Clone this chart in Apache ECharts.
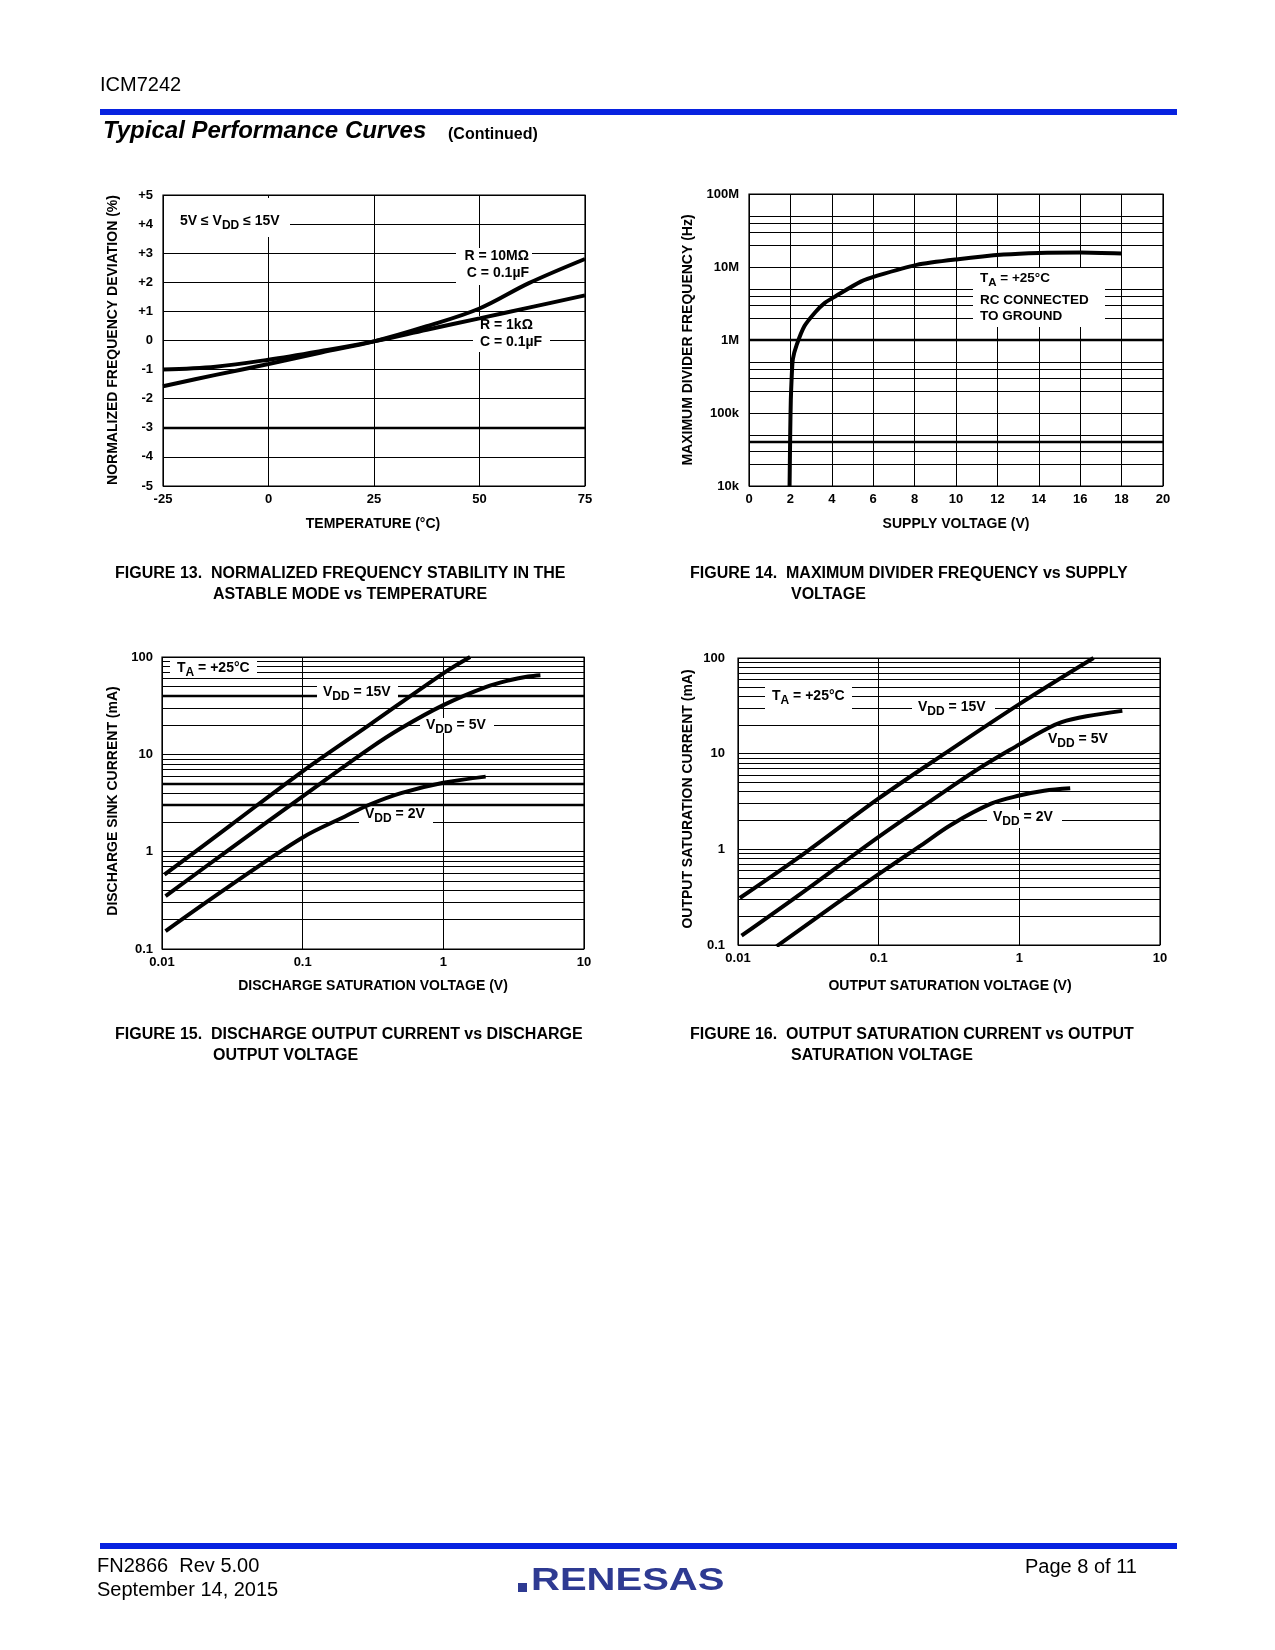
<!DOCTYPE html>
<html>
<head>
<meta charset="utf-8">
<script src="https://cdn.jsdelivr.net/npm/echarts@6/dist/echarts.min.js"></script>
<style>html,body{margin:0;padding:0;background:#fff}#c{width:1275px;height:1650px}</style>
</head>
<body>
<div id="c"></div>
<script>
const FONT = '"Liberation Sans", Arial, Helvetica, sans-serif';

// ---------- Figure 13 : normalized frequency deviation vs temperature ----------
const fig13Temp = [-25, -12.5, 0, 12.5, 25, 37.5, 50, 61.7, 75];
const fig13R10M = [-1.57, -1.18, -0.81, -0.41, -0.03, 0.49, 1.1, 1.97, 2.8];
const fig13R1k  = [-1.0, -0.9, -0.66, -0.36, -0.03, 0.37, 0.76, 1.13, 1.55];
const fig13YLabels = ['-5', '-4', '-3', '-2', '-1', '0', '+1', '+2', '+3', '+4', '+5'];

// ---------- Figure 14 : max divider frequency vs supply voltage ----------
const fig14Vdd  = [1.96, 1.99, 2.02, 2.06, 2.12, 2.3, 2.68, 3.2, 3.65, 4.2, 5.4, 6.2, 8.1, 10.1, 12.3, 14, 16, 18];
const fig14Freq = [1e4, 5e4, 1.5e5, 3e5, 5.5e5, 8.5e5, 1.55e6, 2.4e6, 3.2e6, 4e6, 6.3e6, 7.6e6, 1.07e7, 1.28e7, 1.48e7, 1.56e7, 1.58e7, 1.53e7];
const fig14YLabels = ['10k', '100k', '1M', '10M', '100M'];

// ---------- Figure 15 : discharge sink current vs discharge saturation voltage ----------
const fig15V15x = [0.0104, 0.03, 0.1, 0.3, 1, 1.55];
const fig15V15y = [0.58, 1.82, 6.7, 20.2, 68, 100];
const fig15V5x  = [0.0106, 0.03, 0.1, 0.3, 0.5, 1, 2, 3, 4, 4.9];
const fig15V5y  = [0.35, 1.05, 3.7, 11.5, 18.5, 32, 49, 58, 63, 65];
const fig15V2x  = [0.0106, 0.03, 0.1, 0.2, 0.3, 0.5, 1, 2];
const fig15V2y  = [0.153, 0.44, 1.4, 2.3, 3.05, 4.0, 5.1, 5.9];
const fig15XLabels = ['0.01', '0.1', '1', '10'];
const fig15YLabels = ['0.1', '1', '10', '100'];

// ---------- Figure 16 : output saturation current vs output saturation voltage ----------
const fig16V15x = [0.0103, 0.03, 0.1, 0.3, 1, 3.37];
const fig16V15y = [0.31, 0.92, 3.4, 10.2, 33, 100];
const fig16V5x  = [0.0106, 0.03, 0.1, 0.3, 0.5, 1, 1.5, 2, 3, 5.4];
const fig16V5y  = [0.125, 0.37, 1.35, 4.1, 6.8, 12.5, 17.6, 21.4, 24.6, 28];
const fig16V2x  = [0.0188, 0.05, 0.1, 0.2, 0.326, 0.63, 1, 1.5, 2.3];
const fig16V2y  = [0.097, 0.27, 0.55, 1.1, 1.8, 3.0, 3.65, 4.1, 4.35];
const fig16XLabels = ['0.01', '0.1', '1', '10'];
const fig16YLabels = ['0.1', '1', '10', '100'];

// log-paper minor grid multipliers
const minor14 = [2, 3, 4, 5];
const minor1516 = [2, 3, 4, 5, 6, 7, 8, 9];

// ---------- helpers ----------
function logLines(decades, mults) {
  const out = [];
  decades.forEach(d => mults.forEach(m => out.push(+(m * d).toPrecision(6))));
  return out;
}
function gridMarks(values, thick) {
  const all = values.slice();
  thick.forEach(t => { if (!all.includes(t)) all.push(t); });
  return {
    silent: true, symbol: ['none', 'none'], z: 1, animation: false,
    label: { show: false }, emphasis: { disabled: true },
    lineStyle: { color: '#000', width: 1, type: 'solid' },
    data: all.map(v => ({ yAxis: v, lineStyle: { color: '#000', type: 'solid', width: thick.includes(v) ? 2.3 : 1 } }))
  };
}
function curve(name, xs, ys, gi, extra) {
  return Object.assign({
    name, type: 'line', xAxisIndex: gi, yAxisIndex: gi,
    data: xs.map((x, i) => [x, ys[i]]),
    showSymbol: false, symbol: 'none', smooth: 0.35,
    lineStyle: { color: '#000', width: 4 }, z: 5, silent: true, clip: true, animation: false
  }, extra || {});
}
const lab = { color: '#000', fontFamily: FONT, fontWeight: 'bold', fontSize: 13 };
function ax(o) {
  return Object.assign({
    axisLine: { show: false }, axisTick: { show: false },
    splitLine: { show: true, lineStyle: { color: '#000', width: 1 } }
  }, o);
}
function T(x, y, text, size, opts) {
  opts = opts || {};
  return Object.assign({
    type: 'text', x, y, z: 6, silent: true,
    style: {
      text, fill: opts.fill || '#000', fontFamily: FONT, fontSize: size,
      fontWeight: opts.weight || 'bold', fontStyle: opts.italic ? 'italic' : 'normal',
      textAlign: opts.align || 'left', textVerticalAlign: 'middle'
    }
  }, opts.el || {});
}
function R(x, y, str, size, sub, align) {
  return {
    type: 'text', x, y, z: 6, silent: true,
    style: {
      text: str, textAlign: align || 'left', textVerticalAlign: 'middle', fill: '#000',
      fontFamily: FONT, fontWeight: 'bold', fontSize: size,
      rich: {
        m: { fontFamily: FONT, fontWeight: 'bold', fontSize: size, fill: '#000' },
        s: { fontFamily: FONT, fontWeight: 'bold', fontSize: sub, fill: '#000', padding: [Math.round(size * 0.65), 0, 0, 0] }
      }
    }
  };
}
function box(x1, y1, x2, y2) {
  return { type: 'rect', z: 3, silent: true, shape: { x: x1, y: y1, width: x2 - x1, height: y2 - y1 }, style: { fill: '#fff' } };
}
const expIdx = (v, off) => Math.round(Math.log10(v)) + off;

const graphics = [
  // header
  T(100, 85, 'ICM7242', 20, { weight: 'normal' }),
  { type: 'rect', z: 6, silent: true, shape: { x: 100, y: 109, width: 1077, height: 6 }, style: { fill: '#0722E0' } },
  T(103, 131, 'Typical Performance Curves', 24, { italic: true }),
  T(448, 135, '(Continued)', 16),

  // Fig 13
  box(164, 198, 290, 237), R(180, 221, '{m|5V ≤ V}{s|DD}{m| ≤ 15V}', 14, 12),
  box(456, 248, 532, 285), T(529, 256, 'R = 10MΩ', 14, { align: 'right' }), T(529, 273, 'C = 0.1µF', 14, { align: 'right' }),
  box(473, 316, 550, 352), T(480, 325, 'R = 1kΩ', 14), T(480, 342, 'C = 0.1µF', 14),
  T(373, 524, 'TEMPERATURE (°C)', 14, { align: 'center' }),
  T(113, 340, 'NORMALIZED FREQUENCY DEVIATION (%)', 14, { align: 'center', el: { rotation: Math.PI / 2 } }),
  T(115, 574, 'FIGURE 13.  NORMALIZED FREQUENCY STABILITY IN THE', 16),
  T(213, 595, 'ASTABLE MODE vs TEMPERATURE', 16),

  // Fig 14
  box(973, 268, 1105, 327),
  R(980, 278, '{m|T}{s|A}{m| = +25°C}', 13.5, 11.5),
  T(980, 300, 'RC CONNECTED', 13.5), T(980, 316, 'TO GROUND', 13.5),
  T(956, 524, 'SUPPLY VOLTAGE (V)', 14, { align: 'center' }),
  T(688, 340, 'MAXIMUM DIVIDER FREQUENCY (Hz)', 14, { align: 'center', el: { rotation: Math.PI / 2 } }),
  T(690, 574, 'FIGURE 14.  MAXIMUM DIVIDER FREQUENCY vs SUPPLY', 16),
  T(791, 595, 'VOLTAGE', 16),

  // Fig 15
  box(170, 660, 257, 678), R(177, 668, '{m|T}{s|A}{m| = +25°C}', 14, 12),
  box(317, 686, 398, 700), R(323, 692, '{m|V}{s|DD}{m| = 15V}', 14, 12),
  box(420, 718, 494, 733), R(426, 725, '{m|V}{s|DD}{m| = 5V}', 14, 12),
  box(359, 807, 433, 823), R(365, 814, '{m|V}{s|DD}{m| = 2V}', 14, 12),
  T(373, 986, 'DISCHARGE SATURATION VOLTAGE (V)', 14, { align: 'center' }),
  T(113, 801, 'DISCHARGE SINK CURRENT (mA)', 14, { align: 'center', el: { rotation: Math.PI / 2 } }),
  T(115, 1035, 'FIGURE 15.  DISCHARGE OUTPUT CURRENT vs DISCHARGE', 16),
  T(213, 1056, 'OUTPUT VOLTAGE', 16),

  // Fig 16
  box(765, 687, 852, 710), R(772, 696, '{m|T}{s|A}{m| = +25°C}', 14, 12),
  box(912, 697, 995, 718), R(918, 707, '{m|V}{s|DD}{m| = 15V}', 14, 12),
  box(1042, 732, 1117, 748), R(1048, 739, '{m|V}{s|DD}{m| = 5V}', 14, 12),
  box(987, 810, 1062, 828), R(993, 817, '{m|V}{s|DD}{m| = 2V}', 14, 12),
  T(950, 986, 'OUTPUT SATURATION VOLTAGE (V)', 14, { align: 'center' }),
  T(688, 799, 'OUTPUT SATURATION CURRENT (mA)', 14, { align: 'center', el: { rotation: Math.PI / 2 } }),
  T(690, 1035, 'FIGURE 16.  OUTPUT SATURATION CURRENT vs OUTPUT', 16),
  T(791, 1056, 'SATURATION VOLTAGE', 16),

  // footer
  { type: 'rect', z: 6, silent: true, shape: { x: 100, y: 1543, width: 1077, height: 6 }, style: { fill: '#0722E0' } },
  T(97, 1566, 'FN2866  Rev 5.00', 20, { weight: 'normal' }),
  T(97, 1590, 'September 14, 2015', 20, { weight: 'normal' }),
  T(1025, 1567, 'Page 8 of 11', 20, { weight: 'normal' }),
  { type: 'rect', z: 6, silent: true, shape: { x: 518, y: 1583, width: 9, height: 9 }, style: { fill: '#2E3A92' } },
  T(531, 1581, 'RENESAS', 32, { fill: '#2E3A92', el: { scaleX: 1.25 } })
];

const option = {
  animation: false,
  backgroundColor: '#fff',
  grid: [
    { left: 163, top: 195, width: 422, height: 291, show: true, borderColor: '#000', borderWidth: 1.2 },
    { left: 749, top: 194, width: 414, height: 292, show: true, borderColor: '#000', borderWidth: 1.2 },
    { left: 162, top: 657, width: 422, height: 292, show: true, borderColor: '#000', borderWidth: 1.2 },
    { left: 738, top: 658, width: 422, height: 287, show: true, borderColor: '#000', borderWidth: 1.2 }
  ],
  xAxis: [
    ax({ gridIndex: 0, type: 'value', min: -25, max: 75, interval: 25, axisLabel: Object.assign({ margin: 7 }, lab) }),
    ax({ gridIndex: 1, type: 'value', min: 0, max: 20, interval: 2, axisLabel: Object.assign({ margin: 7 }, lab) }),
    ax({ gridIndex: 2, type: 'log', logBase: 10, min: 0.01, max: 10, axisLabel: Object.assign({ margin: 7, formatter: v => fig15XLabels[expIdx(v, 2)] }, lab) }),
    ax({ gridIndex: 3, type: 'log', logBase: 10, min: 0.01, max: 10, axisLabel: Object.assign({ margin: 7, formatter: v => fig16XLabels[expIdx(v, 2)] }, lab) })
  ],
  yAxis: [
    ax({ gridIndex: 0, type: 'value', min: -5, max: 5, interval: 1, axisLabel: Object.assign({ margin: 10, formatter: v => fig13YLabels[Math.round(v) + 5] }, lab) }),
    ax({ gridIndex: 1, type: 'log', logBase: 10, min: 1e4, max: 1e8, axisLabel: Object.assign({ margin: 10, formatter: v => fig14YLabels[expIdx(v, -4)] }, lab) }),
    ax({ gridIndex: 2, type: 'log', logBase: 10, min: 0.1, max: 100, axisLabel: Object.assign({ margin: 9, formatter: v => fig15YLabels[expIdx(v, 1)] }, lab) }),
    ax({ gridIndex: 3, type: 'log', logBase: 10, min: 0.1, max: 100, axisLabel: Object.assign({ margin: 13, formatter: v => fig16YLabels[expIdx(v, 1)] }, lab) })
  ],
  graphic: { elements: graphics },
  series: [
    curve('R = 10MΩ', fig13Temp, fig13R10M, 0, { markLine: gridMarks([], [-3]) }),
    curve('R = 1kΩ', fig13Temp, fig13R1k, 0),
    curve('Max divider frequency', fig14Vdd, fig14Freq, 1, { smooth: 0.25, markLine: gridMarks(logLines([1e4, 1e5, 1e6, 1e7], minor14), [40000, 1e6]) }),
    curve('VDD = 15V', fig15V15x, fig15V15y, 2, { markLine: gridMarks(logLines([0.1, 1, 10], minor1516), [40, 5, 3]) }),
    curve('VDD = 5V', fig15V5x, fig15V5y, 2),
    curve('VDD = 2V', fig15V2x, fig15V2y, 2),
    curve('VDD = 15V ', fig16V15x, fig16V15y, 3, { markLine: gridMarks(logLines([0.1, 1, 10], minor1516), []) }),
    curve('VDD = 5V ', fig16V5x, fig16V5y, 3),
    curve('VDD = 2V ', fig16V2x, fig16V2y, 3)
  ]
};

const chart = echarts.init(document.getElementById('c'), null, { renderer: 'canvas', width: 1275, height: 1650 });
chart.setOption(option);
</script>
</body>
</html>
